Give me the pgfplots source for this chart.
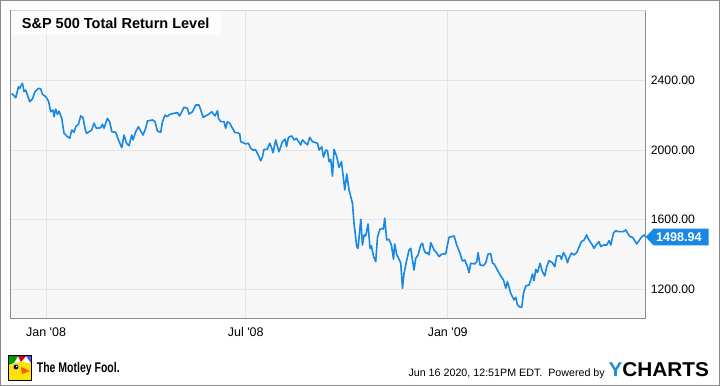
\documentclass[border=0pt]{standalone}
\usepackage{pgfplots}
\pgfplotsset{compat=1.18}
\usepackage{pgfplotstable}
\usepackage{fontspec}
\setmainfont{Liberation Sans}
\definecolor{ylinec}{RGB}{24,136,229}
\definecolor{plotbg}{RGB}{247,247,247}
\definecolor{gridc}{RGB}{228,228,228}
\definecolor{framec}{RGB}{140,140,140}
\definecolor{ychblue}{RGB}{30,140,215}

% x = days since 1 Jan 2008, v = index level
\pgfplotstableread{
d v
-31.3 2326
-27.6 2301
-25.1 2364
-24.0 2355
-21.5 2384
-20.0 2336
-18.5 2345
-14.9 2278
-12.4 2294
-10.0 2336
-6.9 2355
-4.8 2351
-3.3 2321
-0.3 2307
2.2 2282
4.3 2220
6.4 2230
7.3 2192
8.8 2236
10.4 2205
11.8 2224
14.3 2182
16.4 2096
19.5 2077
21.6 2067
23.4 2115
25.5 2102
27.1 2134
29.5 2148
31.6 2197
33.7 2186
35.5 2125
36.8 2096
39.2 2105
41.6 2115
43.7 2154
45.9 2125
49.8 2128
51.4 2148
52.8 2125
55.9 2182
58.0 2163
59.9 2105
63.5 2102
66.0 2058
69.0 2013
71.1 2086
73.3 2039
75.6 2025
78.1 2086
79.3 2058
81.7 2105
84.2 2134
86.3 2109
88.4 2086
90.8 2125
92.4 2167
97.0 2173
99.3 2163
101.5 2109
104.5 2102
106.1 2163
108.4 2201
110.6 2192
112.7 2205
116.6 2211
119.7 2215
121.8 2196
125.7 2246
128.8 2240
130.3 2207
133.4 2220
136.4 2259
139.4 2259
141.0 2230
143.1 2188
145.5 2196
148.5 2207
151.0 2220
154.0 2196
156.2 2226
157.1 2182
159.2 2163
162.2 2163
163.7 2125
165.3 2163
167.4 2154
169.9 2125
172.2 2100
174.4 2100
176.5 2092
177.4 2048
182.0 2035
184.4 2039
186.5 2010
188.6 2000
191.1 2000
192.6 1981
195.6 1938
197.2 1961
198.6 2004
201.7 2004
203.8 2039
205.7 2010
206.8 1984
209.3 2058
210.9 2019
212.3 1990
215.4 2048
217.8 2062
219.1 2019
220.9 2073
223.9 2081
226.0 2058
228.2 2067
230.1 2048
232.1 2029
233.6 2058
236.0 2042
238.2 2029
240.3 2073
242.7 2048
247.3 2039
248.8 2000
251.2 2019
252.8 1958
254.9 2000
256.4 1996
257.9 1933
259.4 1946
261.0 1850
262.4 2004
264.9 1961
267.0 1900
269.2 1933
272.2 1770
274.0 1862
276.1 1770
279.2 1693
280.6 1578
283.1 1444
284.3 1434
286.8 1601
288.3 1453
289.8 1511
291.3 1505
293.4 1574
295.2 1434
296.5 1448
298.3 1390
300.4 1357
302.0 1498
304.3 1544
306.5 1549
307.4 1544
308.6 1607
310.4 1482
312.5 1486
314.7 1453
316.6 1371
317.7 1459
319.6 1396
321.7 1371
323.2 1348
324.8 1204
326.2 1290
328.7 1367
330.8 1425
332.3 1434
335.3 1309
336.9 1377
339.0 1396
341.4 1453
343.0 1463
344.4 1425
346.0 1406
347.5 1409
349.0 1396
350.5 1467
353.5 1425
356.0 1406
358.1 1386
360.3 1400
364.2 1402
367.2 1498
369.4 1501
371.8 1505
374.2 1453
377.2 1406
379.4 1361
381.5 1367
384.0 1328
385.4 1294
387.0 1348
390.6 1344
392.5 1357
393.6 1409
395.5 1338
398.6 1334
400.7 1351
402.8 1402
405.2 1402
406.8 1348
408.2 1344
411.3 1309
414.3 1275
416.8 1252
418.9 1204
420.4 1242
423.4 1175
426.4 1137
428.0 1152
429.5 1108
431.9 1095
433.5 1095
435.0 1175
437.1 1217
440.1 1223
441.7 1252
443.2 1286
444.7 1248
446.2 1313
447.8 1294
450.1 1348
452.3 1300
454.4 1275
456.2 1328
458.3 1363
461.4 1351
463.5 1328
465.4 1390
468.4 1390
469.6 1371
471.5 1409
473.5 1386
475.1 1351
476.5 1377
478.7 1406
481.1 1396
483.5 1409
485.6 1440
487.8 1472
490.2 1482
492.6 1511
493.8 1492
495.7 1472
497.8 1453
499.3 1434
501.8 1459
503.9 1472
505.4 1444
507.9 1453
510.9 1453
513.0 1478
514.6 1453
517.0 1521
519.1 1536
521.2 1530
523.7 1530
526.1 1530
528.2 1540
530.3 1517
532.1 1501
534.3 1498
536.4 1478
538.2 1459
540.3 1478
542.5 1498
544.9 1511
546.4 1498.94
}\sptr

\begin{document}
\begin{tikzpicture}
\useasboundingbox (0,0) rectangle (720bp,-386bp);
\fill[white] (0,0) rectangle (720bp,-386bp);
\draw[framec, line width=1bp] (0.5bp,-0.5bp) rectangle (719.5bp,-385.5bp);
\begin{axis}[
  name=main,
  at={(10.7bp,-318.3bp)}, anchor=south west,
  width=635bp, height=308.3bp, scale only axis,
  xmin=-32.2, xmax=546.4, ymin=1031, ymax=2806,
  axis background/.style={fill=plotbg},
  axis line style={draw=none},
  xtick={0,182,366},
  xticklabels={Jan \textquotesingle 08, Jul \textquotesingle 08, Jan \textquotesingle 09},
  ytick={1200,1600,2000,2400},
  yticklabel pos=right,
  yticklabel={\pgfmathprintnumber[fixed,fixed zerofill,precision=2,1000 sep={},assume math mode=true]{\tick}},
  major tick length=0pt,
  grid=major,
  major grid style={gridc, line width=0.9bp},
  yticklabel style={anchor=west, inner sep=0pt, xshift=5bp, font=\fontsize{12.2bp}{14bp}\selectfont},
  xticklabel style={anchor=north, inner sep=0pt, yshift=-9bp, font=\fontsize{12.5bp}{14bp}\selectfont},
]
\addplot[ylinec, line width=1.6bp, line join=round] table[x=d,y=v]{\sptr};
\coordinate (endpt) at (axis cs:546.4,1498.94);
\end{axis}
\draw[framec, line width=1bp] (main.north west) -- (main.south west) -- (main.south east) -- (main.north east);
\draw[gridc!85!gray, line width=1bp] (main.north west) -- (main.north east);
% title box
\fill[white, opacity=0.75] (10.7bp,-10.5bp) rectangle (220.7bp,-35bp);
\node[anchor=base west, inner sep=0pt, font=\bfseries\fontsize{14.5bp}{17bp}\selectfont] at (21.7bp,-28.3bp) {S\&P 500 Total Return Level};
% end tag
\fill[ylinec] (endpt) -- ++(7.8bp,8.4bp) -- ++(55bp,0) -- ++(0,-16.8bp) -- ++(-55bp,0) -- cycle;
\node[white, font=\bfseries\fontsize{12.6bp}{14bp}\selectfont, inner sep=0pt] at ([xshift=33.2bp]endpt) {1498.94};
% Motley Fool logo
\fill[white] (8bp,-355bp) rectangle (32bp,-381bp);
\fill[green!60!black] (9bp,-356bp) -- (18bp,-356bp) -- (14bp,-363bp) -- (9bp,-365bp) -- cycle;
\fill[red!85!black] (18bp,-356bp) -- (26bp,-356bp) -- (21bp,-362bp) -- cycle;
\fill[blue!70!white] (26bp,-356bp) -- (31bp,-356bp) -- (31bp,-363bp) -- cycle;
\fill[yellow!85!orange] (9bp,-365bp) -- (14bp,-363bp) -- (21bp,-362bp) -- (31bp,-363bp) -- (31bp,-380bp) -- (9bp,-380bp) -- cycle;
\fill[orange!70!red] (21bp,-367bp) -- (30bp,-371bp) -- (22bp,-374bp) -- cycle;
\fill[blue!60!black] (16bp,-367bp) circle (2.4bp);
\fill[white] (16.6bp,-366.4bp) circle (0.8bp);
\fill[yellow!70!orange] (12bp,-374bp) circle (1.6bp);
\draw[black, line width=0.8bp] (8.4bp,-355.4bp) rectangle (31.6bp,-380.6bp);
\node[anchor=base west, inner sep=0pt, font=\bfseries\fontsize{14bp}{16bp}\selectfont] at (36.7bp,-372.3bp) {\scalebox{0.75}[1]{The Motley Fool.}};
% footer
\node[anchor=base east, inner sep=0pt, font=\fontsize{10.7bp}{13bp}\selectfont] at (605bp,-376bp) {Jun 16 2020, 12:51PM EDT.\ \ Powered by};
\node[anchor=base west, inner sep=0pt, font=\bfseries\fontsize{20bp}{24bp}\selectfont] at (608.3bp,-376.7bp) {\scalebox{1.04}[1]{\textcolor{ychblue}{Y}CHARTS}};
\end{tikzpicture}
\end{document}
